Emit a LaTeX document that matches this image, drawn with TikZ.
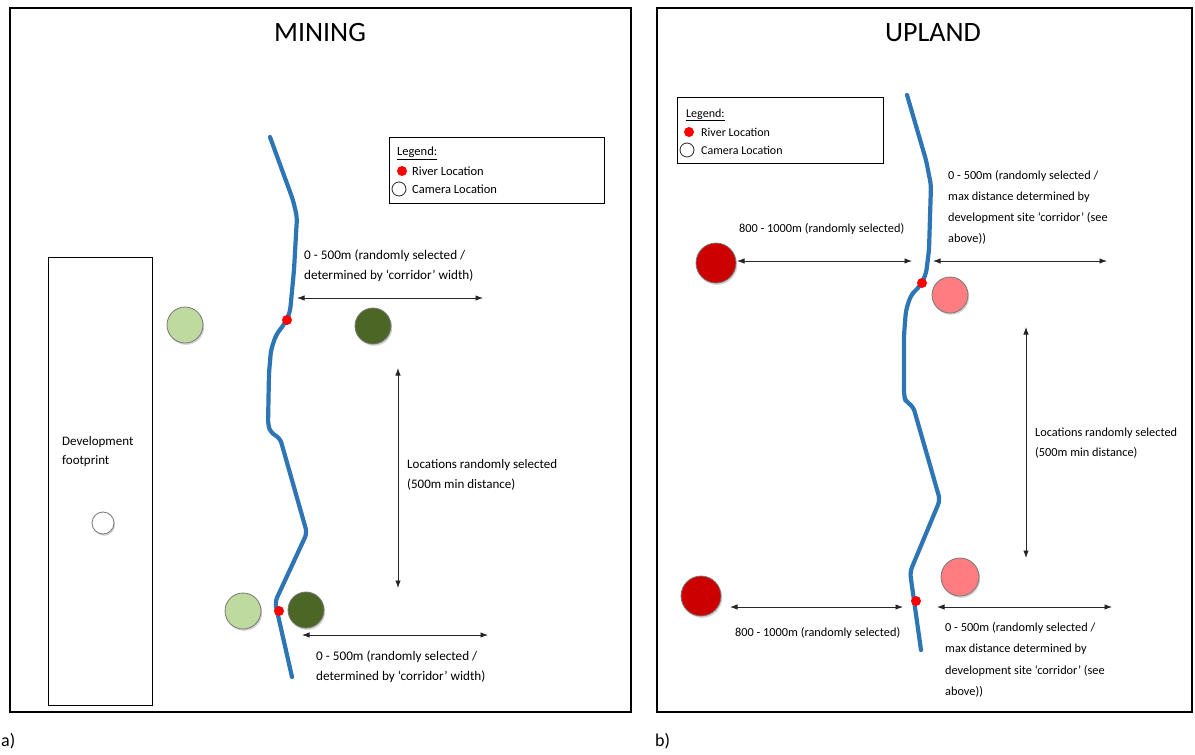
\documentclass[tikz,border=0pt]{standalone}
\usepackage{fontspec}
\setmainfont{Carlito}
\usetikzlibrary{arrows.meta,shadows}
\definecolor{riverblue}{RGB}{46,117,182}
\definecolor{lightgreen}{RGB}{190,218,158}
\definecolor{darkgreen}{RGB}{76,102,38}
\definecolor{darkred}{RGB}{205,0,0}
\definecolor{salmonpink}{RGB}{255,125,128}
\definecolor{circleedge}{RGB}{120,120,120}
\begin{document}
\begin{tikzpicture}[x=1pt,y=-1pt,
  frame/.style={draw=black, line width=2pt},
  thinbox/.style={draw=black, line width=1pt},
  river/.style={draw=riverblue, line width=4.2pt, rounded corners=5pt, line cap=round, line join=round},
  rdot/.style={circle, fill=red, inner sep=0pt, minimum size=10pt},
  spot/.style={circle, draw=circleedge, line width=0.8pt, inner sep=0pt, minimum size=#1,
    drop shadow={opacity=0.35, shadow xshift=1.2pt, shadow yshift=-1.8pt}},
  legcam/.style={circle, draw=black!85, line width=0.8pt, inner sep=0pt, minimum size=14pt},
  measure/.style={{Latex[length=7.5pt,width=5.5pt]}-{Latex[length=7.5pt,width=5.5pt]}, line width=0.9pt, draw=black!85},
  lbl/.style={anchor=north west, inner sep=0pt, align=left, font=\fontsize{13.2}{20}\selectfont},
  rlbl/.style={anchor=north west, inner sep=0pt, align=left, font=\fontsize{12.3}{20}\selectfont},
  leg/.style={anchor=west, inner sep=0pt, font=\fontsize{12.5}{15}\selectfont},
  title/.style={inner sep=0pt, font=\fontsize{28}{34}\selectfont},
  panel/.style={anchor=west, inner sep=0pt, font=\fontsize{18}{22}\selectfont}
]
\useasboundingbox (0,0) rectangle (1195,755);
\fill[white] (0,0) rectangle (1195,755);

% ================= Panel a) MINING =================
\draw[frame] (10,8) rectangle (631,712);
\node[title] (tmin) at (320,33) {MINING};

% development footprint
\draw[thinbox] (48,257) rectangle (152,705);
\node[lbl, font=\fontsize{13}{19}\selectfont] (devtxt) at (62,436) {Development\\footprint};
\node[spot=22pt, fill=white] (cdev) at (103,523) {};

% legend
\draw[thinbox] (389,137) rectangle (604,203);
\node[leg] (alegt) at (397,153) {\underline{Legend:}};
\node[rdot] (alegd) at (402,171) {};
\node[leg] (alegr) at (412,171) {River Location};
\node[legcam] (alegc) at (399,189) {};
\node[leg] (alegct) at (412,189) {Camera Location};

% river
\draw[river] (270,137) -- (293,200) -- (297,217) -- (294,270) -- (290,312) -- (285,323)
  -- (276,335) -- (271,350) -- (269,373) -- (268,425) -- (271,433) -- (280,438)
  -- (307,533) -- (275,602) -- (292,677);

% cameras
\node[spot=36pt, fill=lightgreen] (alg1) at (185,325) {};
\node[spot=36pt, fill=darkgreen] (adg1) at (373,326) {};
\node[spot=36pt, fill=lightgreen] (alg2) at (243,611) {};
\node[spot=36pt, fill=darkgreen] (adg2) at (306,610) {};

% river locations
\node[rdot] (ard1) at (287,320) {};
\node[rdot] (ard2) at (279,611) {};

% measures
\coordinate (a1l) at (297,298);
\coordinate (a1r) at (483,298);
\draw[measure] (a1l) -- (a1r);
\node[lbl] (atxt1) at (304,250) {0 - 500m (randomly selected /\\determined by ‘corridor’ width)};

\coordinate (avt) at (398,368);
\coordinate (avb) at (398,588);
\draw[measure] (avt) -- (avb);
\node[lbl, font=\fontsize{13}{20}\selectfont] (atxt2) at (407,459) {Locations randomly selected\\(500m min distance)};

\coordinate (a2l) at (302,635);
\coordinate (a2r) at (488,635);
\draw[measure] (a2l) -- (a2r);
\node[lbl] (atxt3) at (316,651) {0 - 500m (randomly selected /\\determined by ‘corridor’ width)};

\node[panel] (pa) at (1,741) {a)};

% ================= Panel b) UPLAND =================
\draw[frame] (657,8) rectangle (1192,712);
\node[title] (tup) at (933,33) {UPLAND};

% legend
\draw[thinbox] (677,97) rectangle (883,163);
\node[leg, font=\fontsize{12}{15}\selectfont] (blegt) at (686,115) {\underline{Legend:}};
\node[rdot] (blegd) at (689,132) {};
\node[leg, font=\fontsize{12}{15}\selectfont] (blegr) at (701,132) {River Location};
\node[legcam] (blegc) at (687,150) {};
\node[leg, font=\fontsize{12}{15}\selectfont] (blegct) at (701,150) {Camera Location};

% river
\draw[river] (907,95) -- (926,160) -- (931,185) -- (929,250) -- (926,274) -- (920,286)
  -- (911,295) -- (906,310) -- (904,335) -- (904,396) -- (906,402) -- (913,406)
  -- (940,500) -- (910,572) -- (921,650);

% cameras
\node[spot=40pt, fill=darkred] (bdr1) at (716,263) {};
\node[spot=40pt, fill=darkred] (bdr2) at (701,596) {};
\node[spot=36pt, fill=salmonpink] (bpk1) at (950,295) {};
\node[spot=38pt, fill=salmonpink] (bpk2) at (960,577) {};

% river locations
\node[rdot] (brd1) at (922,283) {};
\node[rdot] (brd2) at (916,601) {};

% measures
\coordinate (b1l) at (737,261);
\coordinate (b1r) at (912,261);
\draw[measure] (b1l) -- (b1r);
\node[rlbl] (btxt1) at (739,223) {800 - 1000m (randomly selected)};

\coordinate (b2l) at (933,261);
\coordinate (b2r) at (1107,261);
\draw[measure] (b2l) -- (b2r);
\node[rlbl, font=\fontsize{12.3}{21}\selectfont] (btxt2) at (948,170) {0 - 500m (randomly selected /\\max distance determined by\\development site ‘corridor’ (see\\above))};

\coordinate (bvt) at (1026,327);
\coordinate (bvb) at (1026,558);
\draw[measure] (bvt) -- (bvb);
\node[rlbl] (btxt3) at (1035,428) {Locations randomly selected\\(500m min distance)};

\coordinate (b3l) at (730,607);
\coordinate (b3r) at (903,607);
\draw[measure] (b3l) -- (b3r);
\node[rlbl] (btxt4) at (735,627) {800 - 1000m (randomly selected)};

\coordinate (b4l) at (937,607);
\coordinate (b4r) at (1112,607);
\draw[measure] (b4l) -- (b4r);
\node[rlbl, font=\fontsize{12.3}{21.5}\selectfont] (btxt5) at (945,622) {0 - 500m (randomly selected /\\max distance determined by\\development site ‘corridor’ (see\\above))};

\node[panel] (pb) at (655,741) {b)};
\end{tikzpicture}
\end{document}
